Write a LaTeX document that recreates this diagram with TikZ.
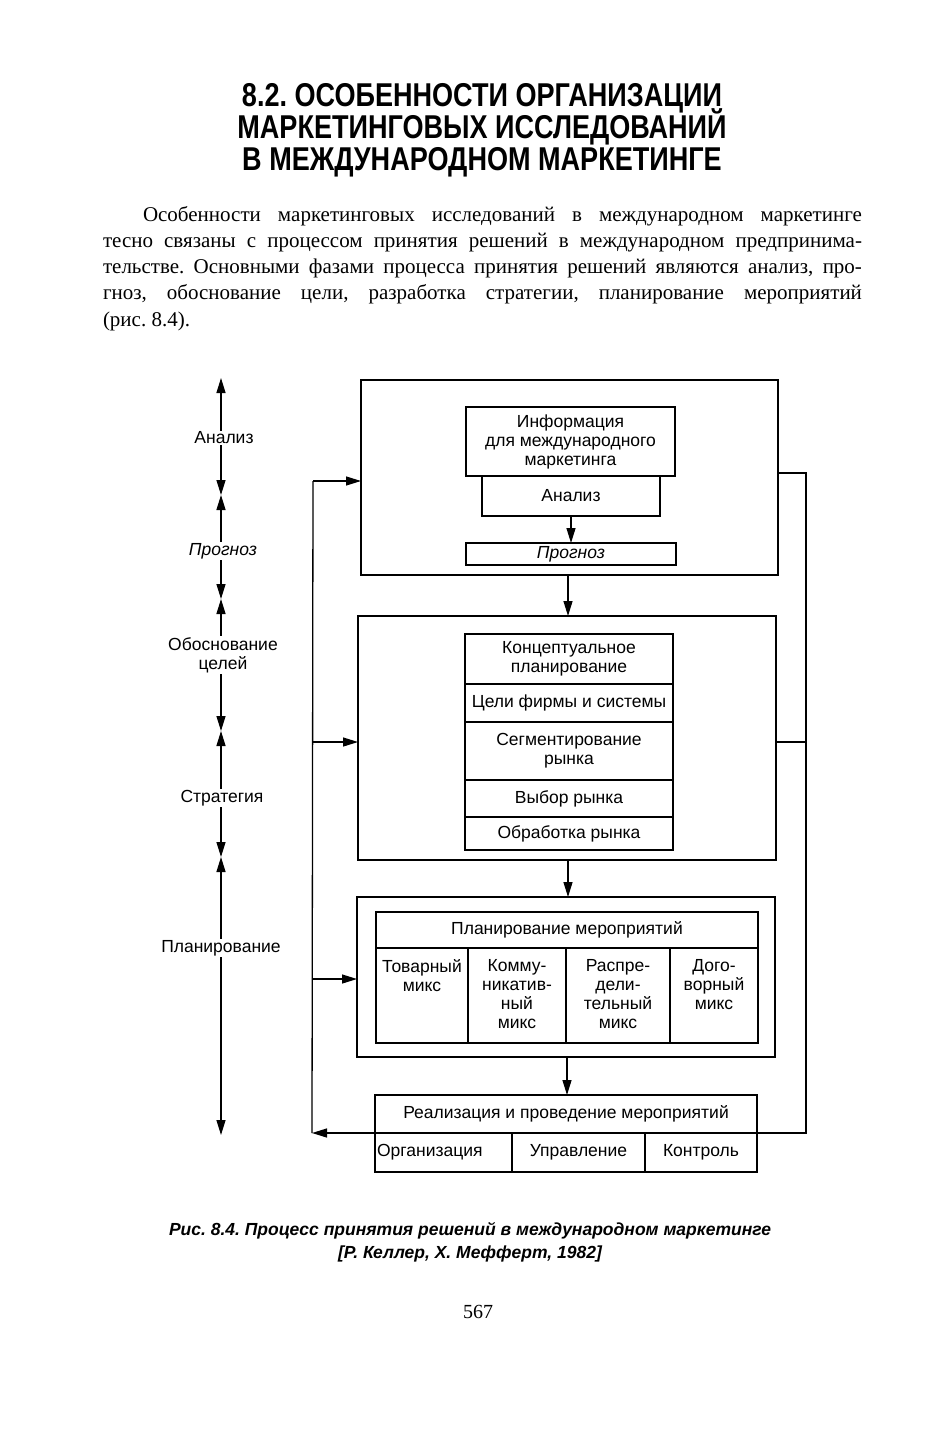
\documentclass[tikz,border=0pt]{standalone}
\usepackage{fontspec}
\setmainfont{Liberation Serif}
\newfontfamily\dsf{Liberation Sans}
\newfontfamily\titlef[FakeStretch=0.82]{Liberation Sans}
\usetikzlibrary{arrows.meta}
\frenchspacing
\newcommand\tightlines{\lineskiplimit=-100pt\relax\lineskip=0pt\relax}
\begin{document}
\begin{tikzpicture}[x=1pt,y=-1pt,
  every node/.style={inner sep=0pt, outer sep=0pt},
  bx/.style={draw, line width=1.2pt, rectangle},
  lbl/.style={font=\dsf\fontsize{17.5}{19}\selectfont, align=center},
  tl/.style={font=\dsf\fontsize{17.5}{19}\selectfont, align=center, fill=white, inner sep=1pt},
  ln/.style={line width=1.3pt},
  arr/.style={line width=1.3pt, -{Triangle[length=15pt,width=9pt]}},
  darr/.style={line width=1.3pt, {Triangle[length=15pt,width=9pt]}-{Triangle[length=15pt,width=9pt]}}
]
\useasboundingbox[fill=white] (0,0) rectangle (938,1442);

% ---------- title ----------
\node[font=\titlef\bfseries\fontsize{33}{32}\selectfont\tightlines, align=center, anchor=north] (title) at (482,83)
  {8.2. ОСОБЕННОСТИ ОРГАНИЗАЦИИ\\МАРКЕТИНГОВЫХ ИССЛЕДОВАНИЙ\\В МЕЖДУНАРОДНОМ МАРКЕТИНГЕ};

% ---------- paragraph ----------
\node[font=\fontsize{21}{26.3}\selectfont, text width=759pt, align=justify, anchor=north west] (para) at (103,206)
  {\hspace*{40pt}Особенности маркетинговых исследований в международном маркетинге\linebreak
  тесно связаны с процессом принятия решений в международном предпринима-\linebreak
  тельстве. Основными фазами процесса принятия решений являются анализ, про-\linebreak
  гноз, обоснование цели, разработка стратегии, планирование мероприятий\linebreak
  (рис.~8.4).};

% ---------- box 1 ----------
\node[bx, minimum width=417pt, minimum height=195pt] (b1) at (569.5,477.5) {};
\node[bx, lbl, minimum width=209pt, minimum height=69pt] (info) at (570.5,441.5) {Информация\\для международного\\маркетинга};
\node[bx, lbl, minimum width=178pt, minimum height=40pt] (an) at (571,496) {Анализ};
\node[bx, lbl, minimum width=210pt, minimum height=22pt] (pr) at (571,554) {\itshape Прогноз};
\draw[arr] (an.south) -- (an.south |- pr.north);

% ---------- box 2 ----------
\node[bx, minimum width=418pt, minimum height=244pt] (b2) at (567,738) {};
\node[bx, lbl, minimum width=208pt, minimum height=50pt] (r1) at (569,659) {Концептуальное\\планирование};
\node[bx, lbl, minimum width=208pt, minimum height=38pt] (r2) at (569,703) {Цели фирмы и системы};
\node[bx, lbl, minimum width=208pt, minimum height=58pt] (r3) at (569,751) {Сегментирование\\рынка};
\node[bx, lbl, minimum width=208pt, minimum height=37pt] (r4) at (569,798.5) {Выбор рынка};
\node[bx, lbl, minimum width=208pt, minimum height=33pt] (r5) at (569,833.5) {Обработка рынка};

% ---------- box 3 ----------
\node[bx, minimum width=418pt, minimum height=160pt] (b3) at (566,977) {};
\node[bx, lbl, minimum width=382pt, minimum height=36pt] (ph) at (567,930) {Планирование мероприятий};
\node[bx, minimum width=92pt, minimum height=95pt] (c1) at (422,995.5) {};
\node[bx, minimum width=98pt, minimum height=95pt] (c2) at (517,995.5) {};
\node[bx, minimum width=104pt, minimum height=95pt] (c3) at (618,995.5) {};
\node[bx, minimum width=88pt, minimum height=95pt] (c4) at (714,995.5) {};
\node[lbl, anchor=north] (t1) at ([yshift=-11pt]c1.north) {Товарный\\микс};
\node[lbl, anchor=north] (t2) at ([yshift=-11pt]c2.north) {Комму-\\никатив-\\ный\\микс};
\node[lbl, anchor=north] (t3) at ([yshift=-11pt]c3.north) {Распре-\\дели-\\тельный\\микс};
\node[lbl, anchor=north] (t4) at ([yshift=-11pt]c4.north) {Дого-\\ворный\\микс};

% ---------- box 4 ----------
\node[bx, lbl, minimum width=382pt, minimum height=38pt] (rh) at (566,1114) {Реализация и проведение мероприятий};
\node[bx, minimum width=137pt, minimum height=39pt] (d1) at (443.5,1152.5) {};
\node[bx, minimum width=133pt, minimum height=39pt] (d2) at (578.5,1152.5) {};
\node[bx, minimum width=112pt, minimum height=39pt] (d3) at (701,1152.5) {};
\node[lbl, anchor=west] (o1) at ([xshift=2pt]d1.west) {Организация};
\node[lbl] (o2) at (d2.center) {Управление};
\node[lbl] (o3) at (d3.center) {Контроль};

% ---------- vertical flow arrows ----------
\draw[arr] (b1.south -| 568,0) -- (b2.north -| 568,0);
\draw[arr] (b2.south -| 568,0) -- (b3.north -| 568,0);
\draw[arr] (b3.south -| 567,0) -- (rh.north -| 567,0);

% ---------- feedback loop ----------
\coordinate (rt) at (806,473);
\coordinate (rm) at (806,742);
\coordinate (rb) at (806,1133);
\coordinate (lb) at (312,1133);
\coordinate (lt) at (313,481);
\draw[ln] (rt -| b1.east) -- (rt) -- (rb) -- (rh.south east);
\draw[ln] (rm -| b2.east) -- (rm);
\draw[arr] (rh.south west) -- (lb);
\draw[ln] (lb) -- (lt);
\draw[arr] (lt) -- (lt -| b1.west);
\draw[arr] (313,742) -- (b2.west |- 0,742);
\draw[arr] (313,979) -- (b3.west |- 0,979);

% ---------- left phase axis ----------
\coordinate (p0) at (221,378);
\coordinate (p1) at (221,495);
\coordinate (p2) at (221,599);
\coordinate (p3) at (221,731);
\coordinate (p4) at (221,857);
\coordinate (p5) at (221,1135);
\draw[darr] (p0) -- (p1);
\draw[darr] (p1) -- (p2);
\draw[darr] (p2) -- (p3);
\draw[darr] (p3) -- (p4);
\draw[darr] (p4) -- (p5);
\node[tl] (l1) at (224,438) {Анализ};
\node[tl] (l2) at (223,551) {\itshape Прогноз};
\node[tl] (l3) at (223,655) {Обоснование\\целей};
\node[tl] (l4) at (222,798) {Стратегия};
\node[tl] (l5) at (221,948) {Планирование};

% ---------- caption ----------
\node[font=\dsf\bfseries\itshape\fontsize{17.5}{23}\selectfont, align=center] (cap) at (470,1242)
  {Рис. 8.4. Процесс принятия решений в международном маркетинге\\{[Р. Келлер, Х. Мефферт, 1982]}};

\node[font=\fontsize{20}{24}\selectfont] (pg) at (478,1312) {567};
\end{tikzpicture}
\end{document}
